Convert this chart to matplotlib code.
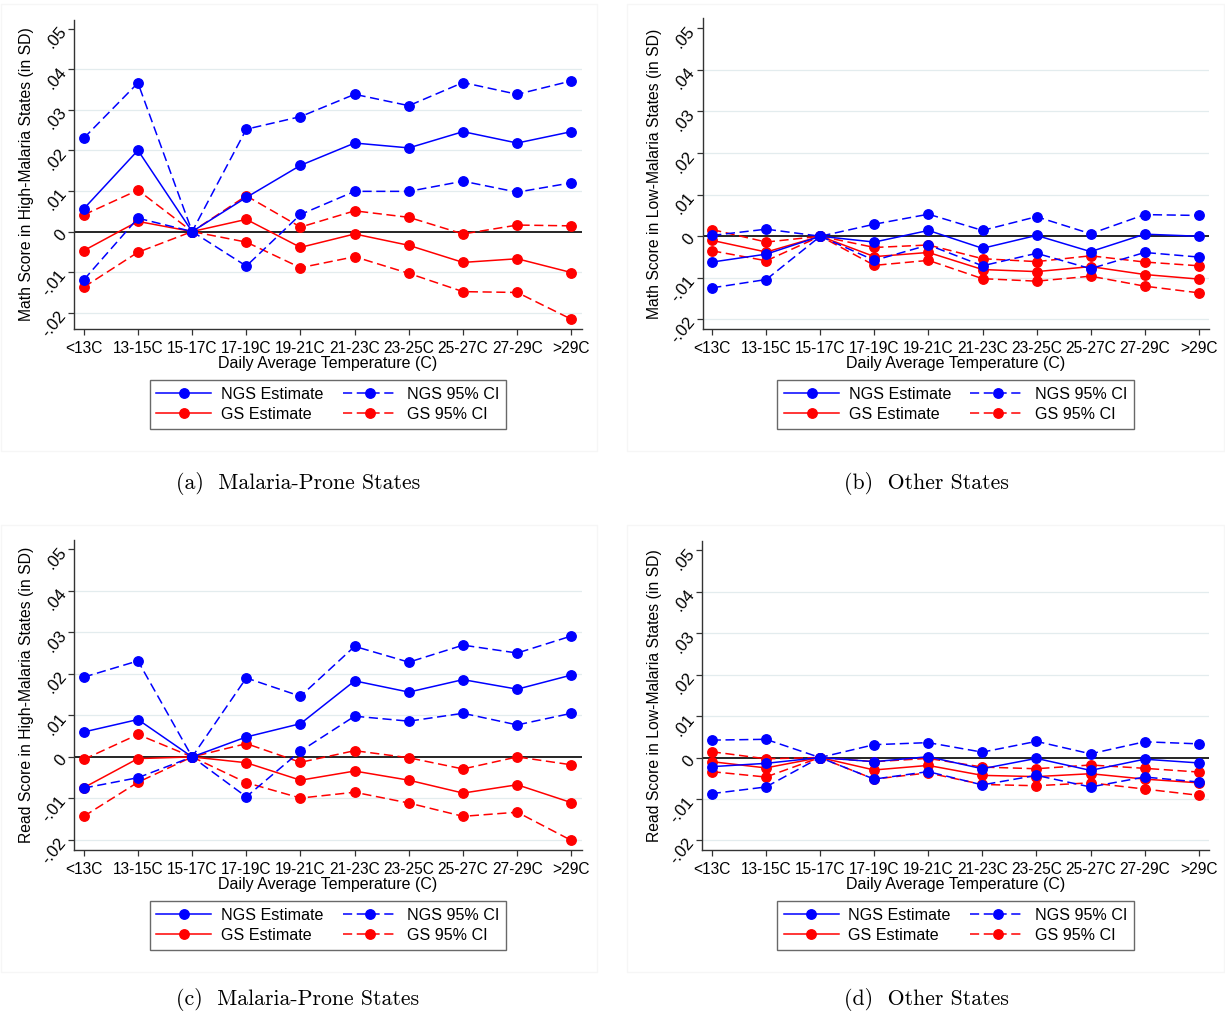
import matplotlib
matplotlib.use("Agg")
import matplotlib.pyplot as plt
from matplotlib.lines import Line2D
from matplotlib.patches import Rectangle

plt.rcParams['font.family'] = ['Liberation Sans', 'DejaVu Sans']

categories = ['<13C', '13-15C', '15-17C', '17-19C', '19-21C', '21-23C',
              '23-25C', '25-27C', '27-29C', '>29C']
ytick_values = [-0.02, -0.01, 0.0, 0.01, 0.02, 0.03, 0.04, 0.05]
ytick_labels = ['-.02', '-.01', '0', '.01', '.02', '.03', '.04', '.05']

# (a) Math score, high-malaria states
math_high_ngs_est = [0.0056, 0.0200, 0.0, 0.0084, 0.0163, 0.0218, 0.0206, 0.0246, 0.0218, 0.0246]
math_high_ngs_hi = [0.0230, 0.0366, 0.0, 0.0252, 0.0283, 0.0338, 0.0310, 0.0367, 0.0338, 0.0371]
math_high_ngs_lo = [-0.0119, 0.0033, 0.0, -0.0085, 0.0042, 0.0099, 0.0099, 0.0124, 0.0097, 0.0120]
math_high_gs_est = [-0.0047, 0.0025, 0.0, 0.0030, -0.0039, -0.0006, -0.0034, -0.0076, -0.0067, -0.0101]
math_high_gs_hi = [0.0041, 0.0102, 0.0, 0.0088, 0.0011, 0.0051, 0.0035, -0.0006, 0.0016, 0.0014]
math_high_gs_lo = [-0.0137, -0.0051, 0.0, -0.0026, -0.0089, -0.0062, -0.0103, -0.0148, -0.0150, -0.0216]

# (b) Math score, low-malaria states
math_low_ngs_est = [-0.0062, -0.0043, 0.0, -0.0014, 0.0014, -0.0029, 0.0002, -0.0037, 0.0005, 0.0]
math_low_ngs_hi = [0.0002, 0.0017, 0.0, 0.0029, 0.0053, 0.0014, 0.0047, 0.0006, 0.0052, 0.0050]
math_low_ngs_lo = [-0.0124, -0.0104, 0.0, -0.0058, -0.0021, -0.0071, -0.0041, -0.0078, -0.0039, -0.0050]
math_low_gs_est = [-0.0010, -0.0038, 0.0, -0.0049, -0.0039, -0.0080, -0.0085, -0.0073, -0.0092, -0.0103]
math_low_gs_hi = [0.0016, -0.0014, 0.0, -0.0027, -0.0021, -0.0054, -0.0061, -0.0047, -0.0062, -0.0071]
math_low_gs_lo = [-0.0035, -0.0059, 0.0, -0.0070, -0.0058, -0.0102, -0.0108, -0.0096, -0.0120, -0.0136]

# (c) Read score, high-malaria states
read_high_ngs_est = [0.0060, 0.0090, 0.0, 0.0048, 0.0080, 0.0183, 0.0156, 0.0186, 0.0163, 0.0197]
read_high_ngs_hi = [0.0192, 0.0231, 0.0, 0.0190, 0.0146, 0.0266, 0.0228, 0.0269, 0.0250, 0.0291]
read_high_ngs_lo = [-0.0075, -0.0050, 0.0, -0.0096, 0.0014, 0.0098, 0.0086, 0.0105, 0.0077, 0.0105]
read_high_gs_est = [-0.0074, -0.0004, 0.0, -0.0014, -0.0056, -0.0034, -0.0056, -0.0087, -0.0067, -0.0110]
read_high_gs_hi = [-0.0006, 0.0054, 0.0, 0.0032, -0.0013, 0.0015, -0.0002, -0.0029, 0.0000, -0.0019]
read_high_gs_lo = [-0.0143, -0.0061, 0.0, -0.0062, -0.0099, -0.0085, -0.0111, -0.0143, -0.0133, -0.0201]

# (d) Read score, low-malaria states
read_low_ngs_est = [-0.0022, -0.0014, 0.0, -0.0010, 0.0002, -0.0027, -0.0002, -0.0031, -0.0004, -0.0013]
read_low_ngs_hi = [0.0042, 0.0044, 0.0, 0.0031, 0.0036, 0.0013, 0.0039, 0.0009, 0.0038, 0.0033]
read_low_ngs_lo = [-0.0087, -0.0071, 0.0, -0.0052, -0.0034, -0.0066, -0.0043, -0.0071, -0.0047, -0.0059]
read_low_gs_est = [-0.0010, -0.0025, 0.0, -0.0030, -0.0019, -0.0043, -0.0046, -0.0039, -0.0052, -0.0061]
read_low_gs_hi = [0.0014, -0.0003, 0.0, -0.0010, -0.0002, -0.0023, -0.0027, -0.0018, -0.0026, -0.0035]
read_low_gs_lo = [-0.0034, -0.0047, 0.0, -0.0052, -0.0037, -0.0065, -0.0068, -0.0061, -0.0076, -0.0091]

panels = [
    dict(data=(math_high_ngs_est, math_high_ngs_hi, math_high_ngs_lo,
               math_high_gs_est, math_high_gs_hi, math_high_gs_lo),
         ylabel='Math Score in High-Malaria States (in SD)',
         caption='(a)  Malaria-Prone States',
         rect=(74, 581.7, 20, 329), ylim=(-0.024, 0.0521),
         legtop=380, capx=298, captop=483),
    dict(data=(math_low_ngs_est, math_low_ngs_hi, math_low_ngs_lo,
               math_low_gs_est, math_low_gs_hi, math_low_gs_lo),
         ylabel='Math Score in Low-Malaria States (in SD)',
         caption='(b)  Other States',
         rect=(702.5, 1209, 18.3, 329), ylim=(-0.0223, 0.0524),
         legtop=380, capx=926, captop=483),
    dict(data=(read_high_ngs_est, read_high_ngs_hi, read_high_ngs_lo,
               read_high_gs_est, read_high_gs_hi, read_high_gs_lo),
         ylabel='Read Score in High-Malaria States (in SD)',
         caption='(c)  Malaria-Prone States',
         rect=(74, 581.7, 540, 850), ylim=(-0.0224, 0.0522),
         legtop=901, capx=298, captop=999),
    dict(data=(read_low_ngs_est, read_low_ngs_hi, read_low_ngs_lo,
               read_low_gs_est, read_low_gs_hi, read_low_gs_lo),
         ylabel='Read Score in Low-Malaria States (in SD)',
         caption='(d)  Other States',
         rect=(702, 1209, 540.7, 850), ylim=(-0.0223, 0.0523),
         legtop=901, capx=926, captop=999),
]

W, H = 1225, 1013
fig = plt.figure(figsize=(W / 100, H / 100), dpi=100)
fig.patch.set_facecolor('white')

# faint graph-region frames
for (x0, y0, x1, y1) in [(1, 4, 597, 451), (627, 4, 1224, 451),
                         (1, 525, 597, 972), (627, 525, 1224, 972)]:
    fig.patches.append(Rectangle((x0 / W, 1 - y1 / H), (x1 - x0) / W, (y1 - y0) / H,
                                 transform=fig.transFigure, fill=False,
                                 edgecolor='#f6f6f6', lw=1.0, zorder=0))

BLUE = '#0000ff'
RED = '#ff0000'
MS = 6.8
LW = 1.1
DASH = (6, 3)

x = list(range(len(categories)))
for p in panels:
    L, R, T, B = p['rect']
    ax = fig.add_axes([L / W, 1 - B / H, (R - L) / W, (B - T) / H])
    ngs_est, ngs_hi, ngs_lo, gs_est, gs_hi, gs_lo = p['data']

    for yv in ytick_values:
        if yv != 0 and yv < 0.05:
            ax.axhline(yv, color='#e3ecee', lw=0.9, zorder=0)
    ax.axhline(0, color='black', lw=1.2, zorder=1)

    for series in (gs_hi, gs_lo):
        ax.plot(x, series, color=RED, lw=LW, ls=(0, DASH), marker='o', ms=MS, zorder=2)
    ax.plot(x, gs_est, color=RED, lw=LW, ls='-', marker='o', ms=MS, zorder=3)
    for series in (ngs_hi, ngs_lo):
        ax.plot(x, series, color=BLUE, lw=LW, ls=(0, DASH), marker='o', ms=MS, zorder=4)
    ax.plot(x, ngs_est, color=BLUE, lw=LW, ls='-', marker='o', ms=MS, zorder=5)

    ax.set_xlim(-0.18, 9.19)
    ax.set_ylim(*p['ylim'])
    ax.set_xticks(x)
    ax.set_xticklabels(categories, fontsize=11.2)
    ax.set_yticks(ytick_values)
    ax.set_yticklabels(ytick_labels, fontsize=12)
    for lab in ax.get_yticklabels():
        lab.set_rotation(50)
        lab.set_rotation_mode('anchor')
        lab.set_ha('right')
        lab.set_va('center')
    ax.tick_params(axis='both', direction='out', length=4.5, width=0.9, color='#333333')
    ax.tick_params(axis='x', pad=4)
    ax.tick_params(axis='y', pad=3)
    for s in ('top', 'right'):
        ax.spines[s].set_visible(False)
    for s in ('left', 'bottom'):
        ax.spines[s].set_color('#333333')
        ax.spines[s].set_linewidth(1.0)
    ax.set_facecolor('none')
    ax.set_xlabel('Daily Average Temperature (C)', fontsize=11.5, labelpad=0)
    ax.set_ylabel(p['ylabel'], fontsize=11.3, labelpad=4)

    handles = [
        Line2D([], [], color=BLUE, lw=LW, ls='-', marker='o', ms=MS),
        Line2D([], [], color=RED, lw=LW, ls='-', marker='o', ms=MS),
        Line2D([], [], color=BLUE, lw=LW, ls=(0, DASH), marker='o', ms=MS),
        Line2D([], [], color=RED, lw=LW, ls=(0, DASH), marker='o', ms=MS),
    ]
    labels = ['NGS Estimate', 'GS Estimate', 'NGS 95% CI', 'GS 95% CI']
    cx = (L + R) / 2
    leg = fig.legend(handles, labels, ncol=2, loc='upper center',
                     bbox_to_anchor=(cx / W, 1 - p['legtop'] / H),
                     bbox_transform=fig.transFigure, fontsize=11.6,
                     frameon=True, fancybox=False, edgecolor='#444444',
                     handlelength=3.4, handletextpad=0.6, columnspacing=1.2,
                     labelspacing=0.32, borderpad=0.42, borderaxespad=0)
    leg.get_frame().set_linewidth(1.0)

    fig.text(p['capx'] / W, 1 - p['captop'] / H, p['caption'], ha='center', va='center',
             fontsize=15.7, family=['cmr10', 'DejaVu Serif'])

fig.savefig('out.png', dpi=100, facecolor='white')
